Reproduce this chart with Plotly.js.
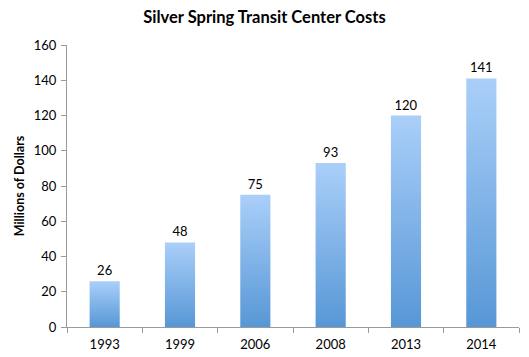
<!DOCTYPE html>
<html><head><meta charset="utf-8">
<script src="https://cdn.plot.ly/plotly-3.0.1.min.js"></script>
<style>html,body{margin:0;padding:0;background:#fff;}#chart{width:529px;height:357px;}</style>
</head><body><div id="chart"></div>
<script>
const years = ["1993","1999","2006","2008","2013","2014"];
const costs = [26, 48, 75, 93, 120, 141];
const yTicks = [0,20,40,60,80,100,120,140,160];

const FONT = "Lato, 'Open Sans', sans-serif";
const trace = {
  type: "bar", x: years, y: costs,
  text: costs.map(String), textposition: "outside", cliponaxis: false,
  textfont: {family: FONT, size: 13, color: "#000"},
  marker: {color: "#7fb2e8", line: {width: 0}},
  hoverinfo: "none"
};
const layout = {
  width: 529, height: 357,
  margin: {l: 67, r: 10, t: 45, b: 30},
  paper_bgcolor: "#fff", plot_bgcolor: "#fff",
  showlegend: false, bargap: 0.6,
  title: {text: "<b>Silver Spring Transit Center Costs</b>", x: 0.5, xanchor: "center", y: 0.952, yanchor: "middle",
          font: {family: FONT, size: 16.5, color: "#000"}},
  xaxis: {type: "category", showline: true, linecolor: "#9a9a9a", linewidth: 1,
          ticks: "outside", tickson: "boundaries", ticklen: 5, tickcolor: "#9a9a9a", ticklabelstandoff: 5,
          tickfont: {family: FONT, size: 13, color: "#000"}, showgrid: false, zeroline: false},
  yaxis: {range: [0,160], tickvals: yTicks, ticktext: yTicks.map(String),
          showline: true, linecolor: "#9a9a9a", linewidth: 1,
          ticks: "outside", ticklen: 5, tickcolor: "#9a9a9a", showgrid: false, zeroline: false, ticklabelstandoff: 2,
          tickfont: {family: FONT, size: 13, color: "#000"},
          title: {text: "<b>Millions of Dollars</b>", standoff: 6, font: {family: FONT, size: 12.5, color: "#000"}}}
};
const gd = document.getElementById("chart");
function applyGradient(){
  const svg = gd.querySelector("svg.main-svg");
  if(!svg) return;
  const ns = "http://www.w3.org/2000/svg";
  if(!svg.querySelector("#barGrad")){
    let defs = svg.querySelector("defs");
    if(!defs){ defs = document.createElementNS(ns,"defs"); svg.insertBefore(defs, svg.firstChild); }
    const g = document.createElementNS(ns,"linearGradient");
    g.setAttribute("id","barGrad"); g.setAttribute("x1","0"); g.setAttribute("y1","0"); g.setAttribute("x2","0"); g.setAttribute("y2","1");
    [["0%","#aacff9"],["100%","#5797d6"]].forEach(([o,c])=>{
      const s=document.createElementNS(ns,"stop"); s.setAttribute("offset",o); s.setAttribute("stop-color",c); g.appendChild(s);
    });
    defs.appendChild(g);
  }
  gd.querySelectorAll(".bars .point path").forEach(p=>{ p.style.fill = "url(#barGrad)"; });
}
Plotly.newPlot(gd, [trace], layout, {staticPlot: true, displayModeBar: false}).then(()=>{
  applyGradient();
  gd.on("plotly_afterplot", applyGradient);
});
</script></body></html>
